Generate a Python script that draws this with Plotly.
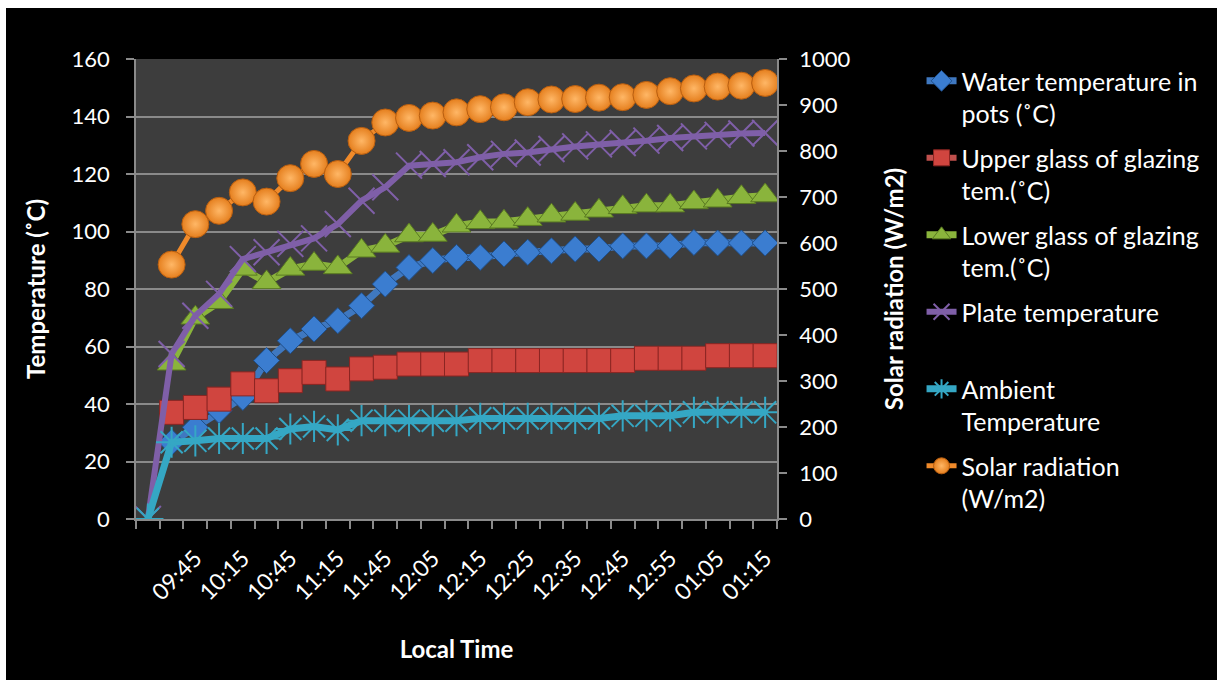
import plotly.graph_objects as go

# ---- data ----
times = ["09:30", "09:37", "09:45", "10:00", "10:15", "10:30", "10:45", "11:00", "11:15",
         "11:30", "11:45", "11:55", "12:05", "12:10", "12:15", "12:20", "12:25", "12:30",
         "12:35", "12:40", "12:45", "12:50", "12:55", "01:00", "01:05", "01:10", "01:15"]
shown_labels = times[2::2]

water = [None, 26.7, 31.9, 37.7, 42.3, 55.1, 62.0, 66.1, 69.0, 74.2, 81.7, 87.5, 89.9, 91.0,
         91.0, 92.2, 92.8, 93.3, 93.9, 93.9, 95.0, 95.0, 95.0, 96.2, 96.0, 96.0, 96.0]
upper = [None, 37.1, 38.8, 41.7, 47.0, 44.6, 48.1, 51.0, 48.7, 52.2, 52.8, 53.9, 53.9, 53.9,
         55.1, 55.1, 55.1, 55.1, 55.1, 55.1, 55.1, 55.9, 55.9, 55.9, 56.8, 56.8, 56.8]
lower = [None, 54.0, 70.0, 75.4, 87.0, 82.3, 87.0, 88.7, 87.5, 93.3, 95.0, 98.6, 98.8, 102.0,
         103.2, 103.4, 104.3, 105.5, 106.1, 107.2, 108.4, 109.0, 109.0, 110.1, 110.7, 111.9, 112.5]
plate = [0, 57.4, 70.7, 78.3, 90.4, 92.8, 95.7, 97.6, 102.6, 110.7, 115.4, 122.9, 123.5, 124.1,
         125.8, 127.0, 127.5, 128.7, 129.6, 130.3, 130.8, 131.6, 132.5, 133.1, 133.6, 134.1, 134.3]
ambient = [0, 26.7, 27.2, 28.0, 28.0, 28.0, 31.3, 32.2, 31.0, 34.2, 34.2, 34.2, 34.2, 34.2,
           35.0, 35.0, 35.0, 35.0, 35.0, 35.0, 35.9, 35.9, 35.9, 37.1, 37.1, 37.1, 37.1]
solar = [None, 553, 641, 670, 710, 690, 741, 772, 750, 822, 862, 872, 877, 884, 891, 895, 906,
         912, 913, 916, 917, 922, 930, 936, 940, 942, 948]

idx = list(range(len(times)))
label_pos = [times.index(t) for t in shown_labels]

FONT = "Lato"
fig = go.Figure()

def add(name, y, color, line_color, symbol, size, lw, outline, yaxis="y", grad=None, mlw=1):
    marker = dict(symbol=symbol, size=size, color=color,
                  line=dict(color=outline, width=mlw))
    if grad:
        marker["gradient"] = dict(type="radial", color=grad)
    fig.add_trace(go.Scatter(
        x=idx, y=y, name=name, mode="lines+markers", yaxis=yaxis,
        line=dict(color=line_color, width=lw), marker=marker,
        legendgroup=name, connectgaps=False,
        customdata=times, hovertemplate="%{customdata}: %{y}<extra>" + name + "</extra>"))

add("Water temperature in<br>pots (˚C)", water, "#3b7dd0", "#3f78c0", "diamond", 20, 7, "#1f4f8a")
add("Upper glass of glazing<br>tem.(˚C)", upper, "#d0453f", "#c0504d", "square", 24, 6, "#8a2522")
add("Lower glass of glazing<br>tem.(˚C)", lower, "#8ab43c", "#8ab43c", "triangle-up", 25, 7, "#5a7a22")
add("Plate temperature<br>\u00a0", plate, "#7f5fa8", "#7f5fa8", "x-thin-open", 26, 6, "#7f5fa8", mlw=2)
add("Ambient<br>Temperature", ambient, "#35a7c4", "#35a7c4", "asterisk-open", 26, 7, "#35a7c4", mlw=2)
add("Solar radiation<br>(W/m2)", solar, "#e57f1e", "#f08a2a", "circle", 27, 5, "#b85e10",
    yaxis="y2", grad="#ffb766")

grid = "#8a8a8a"
axis_line = "#8a8a8a"
tick_font = dict(family=FONT, size=22, color="white")
xtick_font = dict(family=FONT, size=23, color="white")
title_font = dict(family=FONT, size=24, color="white", weight="bold")

fig.update_layout(
    width=1211, height=672, autosize=False,
    margin=dict(l=130, r=438, t=51, b=161),
    paper_bgcolor="black", plot_bgcolor="#3d3d3d",
    font=dict(family=FONT, color="white"),
    showlegend=True,
    legend=dict(x=1.2255, y=1.002, xanchor="left", yanchor="top",
                font=dict(family=FONT, size=25, color="white"),
                bgcolor="rgba(0,0,0,0)", traceorder="grouped", tracegroupgap=9,
                valign="top", itemwidth=30, maxheight=660),
    xaxis=dict(range=[-0.5, len(times) - 0.5], tickvals=label_pos, ticktext=shown_labels,
               tickangle=-45, ticks="", tickfont=xtick_font, ticklabelstandoff=15,
               showgrid=False, zeroline=False, showline=True, linecolor=axis_line, linewidth=1.5,
               minor=dict(ticks="outside", tick0=-0.5, dtick=1, ticklen=8, tickcolor=axis_line,
                          tickwidth=1.5, showgrid=False),
               title=dict(text="Local Time", font=title_font, standoff=37)),
    yaxis=dict(range=[0, 160], dtick=20, ticks="outside", ticklen=8, tickcolor=axis_line, tickwidth=1.5,
               tickfont=tick_font, ticklabelstandoff=12,
               showgrid=True, gridcolor=grid, gridwidth=1.5, zeroline=False,
               showline=True, linecolor=axis_line, linewidth=1.5,
               title=dict(text="Temperature (˚C)", font=title_font, standoff=19)),
    yaxis2=dict(range=[0, 1000], dtick=100, ticks="outside", ticklen=8, tickcolor=axis_line, tickwidth=1.5,
                tickfont=tick_font, ticklabelstandoff=8, overlaying="y", side="right",
                showgrid=False, zeroline=False, showline=True, linecolor=axis_line, linewidth=1.5,
                title=dict(text="Solar radiation (W/m2)", font=title_font, standoff=37)),
)

# place the figure with the page's white border as in the reference (6 px left, 8 px top)
fig.write_html("out.html", post_script="document.body.style.margin='8px 0 0 6px';")
